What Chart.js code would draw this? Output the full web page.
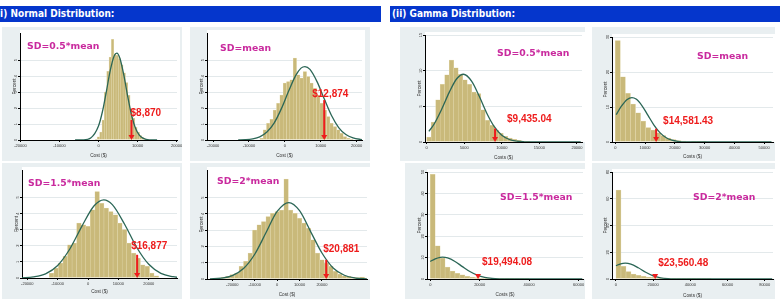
<!DOCTYPE html>
<html>
<head>
<meta charset="utf-8">
<script src="https://cdn.jsdelivr.net/npm/chart.js@4.4.1/dist/chart.umd.min.js"></script>
<style>
  body { margin: 0; width: 784px; height: 300px; background: #fff; position: relative; overflow: hidden; }
  .hdr { position: absolute; top: 6px; height: 16px; background: #0536cc; color: #fff; overflow: hidden; white-space: nowrap;
         font: bold 10px "DejaVu Sans", Verdana, sans-serif; line-height: 16px; }
  .hdr span { display: inline-block; transform: scaleX(0.9); transform-origin: left center; }
  .panel { position: absolute; background: #e9eff1; }
  .panel canvas { display: block; }
</style>
</head>
<body>
<div class="hdr" style="left:0;width:381px"><span style="margin-left:-4px">(i) Normal Distribution:</span></div>
<div class="hdr" style="left:390px;width:390px"><span style="margin-left:2px">(ii) Gamma Distribution:</span></div>

<script>
// ---------- (i) Normal distribution, percent per bin ----------
const costTicks = [-20000, -10000, 0, 10000, 20000];
const normalPctTicks = [0, 1, 2, 3, 4, 5];

// SD = 0.5*mean
const n05Bins = [-600, 0, 600, 1200, 1800, 2400, 3000, 3600, 4200, 4800, 5400, 6000, 6600, 7200, 7800, 8400, 9000, 9600, 10200, 10800, 11400, 12000];
const n05Pct = [0.04, 0.2, 0.5, 1.25, 3.0, 4.3, 5.2, 6.3, 5.4, 5.3, 5.1, 4.7, 4.2, 3.6, 2.8, 1.95, 1.35, 0.8, 0.5, 0.27, 0.15, 0.06];
const n05CurveX = [-6000, -4000, -2000, 0, 1000, 2000, 3000, 4000, 4700, 5500, 6500, 7500, 8500, 9500, 10500, 11500, 13000, 15000];
const n05CurveY = [0, 0.01, 0.13, 0.88, 1.77, 3.02, 4.34, 5.26, 5.44, 5.1, 4.04, 2.7, 1.52, 0.72, 0.29, 0.1, 0.01, 0];

// SD = mean
const n10Bins = [-6510, -5580, -4650, -3720, -2790, -1860, -930, 0, 930, 1860, 2790, 3720, 4650, 5580, 6510, 7440, 8370, 9300, 10230, 11160, 12090, 13020, 13950, 14880, 15810, 16740, 17670, 18600];
const n10Pct = [0.1, 0.63, 1.05, 1.3, 1.88, 2.3, 2.82, 3.56, 3.66, 3.77, 5.13, 4.08, 3.87, 4.29, 3.97, 3.56, 3.24, 2.82, 2.3, 1.88, 1.46, 1.05, 0.84, 0.63, 0.42, 0.21, 0.1, 0.05];
const n10CurveX = [-13000, -11000, -9000, -7000, -5000, -3000, -1000, 1000, 3000, 4500, 5600, 7000, 9000, 11000, 13000, 15000, 17000, 19000, 21000, 22000];
const n10CurveY = [0.005, 0.02, 0.07, 0.2, 0.5, 1.06, 1.95, 3.03, 4.03, 4.5, 4.6, 4.42, 3.64, 2.56, 1.53, 0.78, 0.34, 0.13, 0.04, 0.02];

// SD = 1.5*mean
const n15Bins = [-12000, -10500, -9000, -7500, -6000, -4500, -3000, -1500, 0, 1500, 3000, 4500, 6000, 7500, 9000, 10500, 12000, 13500, 15000, 16500, 18000, 19500, 21000, 22500];
const n15Pct = [0.31, 0.62, 0.93, 1.34, 2.06, 2.16, 3.4, 3.3, 3.2, 4.23, 5.36, 4.64, 4.33, 4.12, 3.92, 3.4, 3.0, 2.16, 1.55, 1.24, 0.82, 0.72, 0.31, 0.14];
const n15CurveX = [-22000, -18000, -14000, -10000, -6000, -2000, 2000, 5200, 8000, 12000, 16000, 20000, 24000, 28000, 30000];
const n15CurveY = [0.01, 0.07, 0.26, 0.78, 1.8, 3.22, 4.48, 4.85, 4.55, 3.35, 1.91, 0.85, 0.29, 0.08, 0.03];

// SD = 2*mean
const n20Bins = [-26000, -24000, -22000, -20000, -18000, -16000, -14000, -12000, -10000, -8000, -6000, -4000, -2000, 0, 2000, 4000, 6000, 8000, 10000, 12000, 14000, 16000, 18000, 20000, 22000, 24000, 26000, 28000, 30000, 32000, 34000, 36000, 38000, 40000];
const n20Pct = [0.06, 0.1, 0.16, 0.27, 0.37, 0.78, 1.08, 1.6, 3.0, 3.33, 3.53, 3.84, 4.04, 4.14, 4.24, 6.14, 4.24, 4.04, 3.73, 3.43, 3.12, 2.41, 1.6, 1.18, 0.98, 0.78, 0.47, 0.31, 0.2, 0.16, 0.1, 0.08, 0.12, 0.06];
const n20CurveX = [-30000, -25000, -20000, -15000, -10000, -5000, 0, 5200, 10000, 15000, 20000, 25000, 30000, 35000, 40000];
const n20CurveY = [0.01, 0.05, 0.21, 0.64, 1.52, 2.84, 4.15, 4.7, 4.2, 2.9, 1.6, 0.68, 0.23, 0.06, 0.01];

// ---------- (ii) Gamma distribution ----------
// SD = 0.5*mean
const g05Ticks = [0, 5000, 10000, 15000, 20000];
const g05PctTicks = [0, 5, 10, 15];
const g05Bins = [300, 900, 1500, 2100, 2700, 3300, 3900, 4500, 5100, 5700, 6300, 6900, 7500, 8100, 8700, 9300, 9900, 10500, 11100, 11700, 12300, 12900, 13500];
const g05Pct = [0.7, 2.8, 5.9, 8.1, 9.4, 11.5, 10.4, 9.5, 8.7, 8.1, 7.0, 6.8, 4.5, 3.05, 2.35, 1.65, 1.2, 0.8, 0.56, 0.38, 0.23, 0.14, 0.09];
const g05CurveX = [300, 1000, 2000, 3000, 4000, 4900, 6000, 7000, 8000, 9000, 10000, 11000, 12000, 13000, 14500, 20500];
const g05CurveY = [1.5, 2.52, 4.58, 6.96, 8.87, 9.5, 8.5, 6.4, 4.03, 2.14, 0.94, 0.35, 0.11, 0.03, 0.003, 0];

// SD = mean
const g10Ticks = [0, 10000, 20000, 30000, 40000, 50000];
const g10PctTicks = [0, 10, 20, 30];
const g10Bins = [850, 2550, 4250, 5950, 7650, 9350, 11050, 12750, 14450, 16150, 17850, 19550, 21250, 22950, 24650, 26350, 28050, 29750];
const g10Pct = [29, 18.6, 13.9, 10.8, 8.3, 6.0, 4.1, 3.4, 2.6, 1.8, 1.1, 0.7, 0.4, 0.25, 0.15, 0.1, 0.06, 0.04];
const g10CurveX = [300, 2000, 4000, 5600, 7000, 9000, 11000, 13000, 15000, 17000, 19000, 21000, 24000, 30000, 52500];
const g10CurveY = [7.8, 10.15, 12.16, 12.7, 12.26, 10.35, 7.6, 4.84, 2.69, 1.3, 0.54, 0.2, 0.03, 0, 0];

// SD = 1.5*mean
const g15Ticks = [0, 20000, 40000, 60000];
const g15PctTicks = [0, 10, 20, 30, 40, 50];
const g15Bins = [1000, 3000, 5000, 7000, 9000, 11000, 13000, 15000, 17000, 19000, 21000, 23000, 25000, 27000, 29000, 31000, 33000, 35000, 37000, 39000];
const g15Pct = [48.9, 15.5, 9.8, 5.6, 3.7, 2.6, 1.9, 1.3, 0.95, 0.7, 0.45, 0.3, 0.2, 0.15, 0.1, 0.08, 0.05, 0.04, 0.03, 0.02];
const g15CurveX = [0, 2000, 4000, 5000, 7000, 10000, 13000, 16000, 19000, 22000, 25000, 28000, 31000, 34000, 61500];
const g15CurveY = [8.2, 9.4, 10.1, 10.2, 9.85, 8.2, 5.8, 3.5, 1.8, 0.78, 0.29, 0.09, 0.03, 0.005, 0];

// SD = 2*mean
const g20Ticks = [0, 20000, 40000, 60000, 80000];
const g20PctTicks = [0, 20, 40, 60, 80];
const g20Bins = [1350, 4050, 6750, 9450, 12150, 14850, 17550, 20250, 22950, 25650, 28350, 31050, 33750, 36450, 39150, 41850, 44550, 47250, 49950];
const g20Pct = [66.5, 9.4, 5.6, 3.6, 2.8, 2.0, 1.5, 1.2, 0.8, 0.6, 0.45, 0.3, 0.22, 0.15, 0.1, 0.08, 0.05, 0.04, 0.03];
const g20CurveX = [0, 2500, 5000, 8000, 12000, 16000, 20000, 24000, 28000, 32000, 36000, 40000, 84000];
const g20CurveY = [9.97, 11.4, 11.9, 11.16, 8.4, 5.05, 2.4, 0.92, 0.28, 0.07, 0.013, 0, 0];

// axis ranges and the annotated cut-off per panel (normal x4, then gamma x4)
const xMin = [-20100, -21700, -21750, -31300, -220, -1100, -1330, -2140];
const xMax = [20100, 21500, 29300, 40100, 20670, 53000, 61800, 84450];
const yMax = [6.7, 6.7, 6.7, 6.7, 15, 30, 50, 80];
const arrowX = [8452, 10970, 16170, 21900, 9100, 13727, 19325, 21075];
const arrowTop = [1.25, 2.5, 1.44, 1.18, 1.9, 3.8, 2.3, 3];
const costLabels = ['$8,870', '$12,874', '$16,877', '$20,881', '$9,435.04', '$14,581.43', '$19,494.08', '$23,560.48'];
const sdLabels = ['SD=0.5*mean', 'SD=mean', 'SD=1.5*mean', 'SD=2*mean', 'SD=0.5*mean', 'SD=mean', 'SD=1.5*mean', 'SD=2*mean'];

const panels = [
  { bins: n05Bins, pct: n05Pct, cx: n05CurveX, cy: n05CurveY, xt: costTicks, yt: normalPctTicks, title: 'Cost ($)' },
  { bins: n10Bins, pct: n10Pct, cx: n10CurveX, cy: n10CurveY, xt: costTicks, yt: normalPctTicks, title: 'Cost ($)' },
  { bins: n15Bins, pct: n15Pct, cx: n15CurveX, cy: n15CurveY, xt: costTicks, yt: normalPctTicks, title: 'Cost ($)' },
  { bins: n20Bins, pct: n20Pct, cx: n20CurveX, cy: n20CurveY, xt: costTicks, yt: normalPctTicks, title: 'Cost ($)' },
  { bins: g05Bins, pct: g05Pct, cx: g05CurveX, cy: g05CurveY, xt: g05Ticks, yt: g05PctTicks, title: 'Costs ($)' },
  { bins: g10Bins, pct: g10Pct, cx: g10CurveX, cy: g10CurveY, xt: g10Ticks, yt: g10PctTicks, title: 'Costs ($)' },
  { bins: g15Bins, pct: g15Pct, cx: g15CurveX, cy: g15CurveY, xt: g15Ticks, yt: g15PctTicks, title: 'Costs ($)' },
  { bins: g20Bins, pct: g20Pct, cx: g20CurveX, cy: g20CurveY, xt: g20Ticks, yt: g20PctTicks, title: 'Costs ($)' },
];

// page layout: panel box, plot edges, y-title x, x-axis band, text offsets
const boxes = [
  { x: 2,   y: 27,  w: 180, h: 134, l: 20,  t: 33,  r: 177, b: 140, ytx: 15,    xh: 18.5, sdX: 27,  sdY: 47,  dx: -1,  dy: -7 },
  { x: 190, y: 27,  w: 180, h: 134, l: 207, t: 33,  r: 362, b: 140, ytx: 201.7, xh: 18.5, sdX: 220, sdY: 49,  dx: -12, dy: -6 },
  { x: 2,   y: 163, w: 180, h: 136, l: 22,  t: 170, r: 177, b: 278, ytx: 16.7,  xh: 17,   sdX: 28,  sdY: 184, dx: -6,  dy: -9 },
  { x: 190, y: 163, w: 180, h: 136, l: 207, t: 170, r: 367, b: 279, ytx: 201.7, xh: 18.5, sdX: 217, sdY: 182, dx: -3,  dy: -11 },
  { x: 400, y: 27,  w: 185, h: 134, l: 425, t: 35,  r: 582, b: 142, ytx: 419.3, xh: 18.5, sdX: 497, sdY: 54,  dx: 12,  dy: -9 },
  { x: 592, y: 27,  w: 183, h: 134, l: 612, t: 37,  r: 773, b: 142, ytx: 605.7, xh: 17.8, sdX: 697, sdY: 57,  dx: 7,   dy: -7 },
  { x: 405, y: 163, w: 180, h: 136, l: 427, t: 172, r: 583, b: 279, ytx: 419.3, xh: 18.5, sdX: 500, sdY: 198, dx: 4,   dy: -12 },
  { x: 592, y: 163, w: 183, h: 136, l: 612, t: 172, r: 773, b: 279, ytx: 605.7, xh: 19.2, sdX: 693, sdY: 198, dx: 3,   dy: -12 },
];

Chart.defaults.font.family = '"Liberation Sans", Arial, sans-serif';

// white plot region, rotated y labels, red cut-off arrow and the two annotations
const decor = {
  id: 'decor',
  beforeDraw(chart) {
    const { ctx, chartArea: a } = chart;
    ctx.save();
    ctx.fillStyle = '#ffffff';
    ctx.fillRect(a.left, a.top - 3, a.right - a.left + 3, a.bottom - a.top + 3);
    ctx.restore();
  },
  afterDraw(chart, args, o) {
    const { ctx, chartArea: a } = chart;
    const xs = chart.scales.x, ys = chart.scales.y;
    ctx.save();
    ctx.fillStyle = '#333';
    ctx.font = '4px "Liberation Sans", Arial, sans-serif';
    ctx.textAlign = 'center';
    ctx.textBaseline = 'middle';
    ys.ticks.forEach(t => {
      ctx.save();
      ctx.translate(a.left - 4, ys.getPixelForValue(t.value));
      ctx.rotate(-Math.PI / 2);
      ctx.fillText(String(t.value), 0, 0);
      ctx.restore();
    });

    const ax = xs.getPixelForValue(o.arrowX);
    const top = ys.getPixelForValue(o.arrowTop);
    const bot = ys.getPixelForValue(0);
    ctx.strokeStyle = ctx.fillStyle = '#ee1c1c';
    ctx.lineWidth = 2;
    if (bot - top > 5) {
      ctx.beginPath();
      ctx.moveTo(ax, top);
      ctx.lineTo(ax, bot - 4);
      ctx.stroke();
    }
    ctx.beginPath();
    ctx.moveTo(ax - 3, bot - 5);
    ctx.lineTo(ax + 3, bot - 5);
    ctx.lineTo(ax, bot);
    ctx.closePath();
    ctx.fill();

    ctx.textAlign = 'left';
    ctx.font = 'bold 10px "Liberation Sans", Arial, sans-serif';
    ctx.fillText(o.cost, ax + o.dx, top + o.dy);

    ctx.fillStyle = '#c92a9e';
    ctx.font = 'bold 9.3px "DejaVu Sans", Verdana, sans-serif';
    ctx.fillText(o.sd, o.sdX, o.sdY);
    ctx.restore();
  }
};

function makePanel(i) {
  const p = panels[i], b = boxes[i];
  const div = document.createElement('div');
  div.className = 'panel';
  Object.assign(div.style, { left: b.x + 'px', top: b.y + 'px', width: b.w + 'px', height: b.h + 'px' });
  const cv = document.createElement('canvas');
  cv.width = b.w;
  cv.height = b.h;
  div.appendChild(cv);
  document.body.appendChild(div);

  const yLeft = b.ytx - 2.8 - b.x;   // y title centre sits 2.8px right of scale's left edge
  new Chart(cv, {
    type: 'bar',
    data: {
      datasets: [
        {
          type: 'line',
          data: p.cx.map((x, k) => ({ x, y: p.cy[k] })),
          borderColor: '#2b6656',
          borderWidth: 1.3,
          pointRadius: 0,
          cubicInterpolationMode: 'monotone',
          order: 0,
        },
        {
          type: 'bar',
          data: p.bins.map((x, k) => ({ x, y: p.pct[k] })),
          backgroundColor: '#c9b97a',
          borderColor: '#e4dab0',
          borderWidth: 0.5,
          barPercentage: 1,
          categoryPercentage: 1,
          order: 1,
        },
      ],
    },
    options: {
      responsive: false,
      animation: false,
      devicePixelRatio: 1,
      layout: {
        padding: { left: yLeft, top: b.t - b.y, right: b.x + b.w - b.r, bottom: b.y + b.h - b.b - b.xh },
      },
      plugins: {
        legend: { display: false },
        tooltip: { enabled: false },
        decor: {
          arrowX: arrowX[i], arrowTop: arrowTop[i], cost: costLabels[i], sd: sdLabels[i],
          dx: b.dx, dy: b.dy, sdX: b.sdX - b.x, sdY: b.sdY - b.y,
        },
      },
      scales: {
        x: {
          type: 'linear',
          min: xMin[i],
          max: xMax[i],
          offset: false,
          afterBuildTicks: s => { s.ticks = p.xt.map(v => ({ value: v })); },
          afterFit: s => { s.height = b.xh; s.paddingLeft = 0; s.paddingRight = 0; },
          grid: { offset: false, color: 'rgba(0,0,0,0)', tickColor: '#000', tickLength: 2 },
          border: { color: '#000', width: 1 },
          ticks: { font: { size: 4 }, color: '#333', padding: 1, maxRotation: 0, autoSkip: false, callback: v => String(v) },
          title: { display: true, text: p.title, font: { size: 4.7 }, color: '#333', padding: 0 },
        },
        y: {
          min: 0,
          max: yMax[i],
          afterBuildTicks: s => { s.ticks = p.yt.map(v => ({ value: v })); },
          afterFit: s => { s.width = b.l - b.x - yLeft; s.paddingTop = 0; s.paddingBottom = 0; },
          grid: { color: '#e3e9eb', tickColor: '#000', tickLength: 2 },
          border: { color: '#000', width: 1 },
          ticks: { display: false },
          title: { display: true, text: 'Percent', font: { size: 4.7 }, color: '#333', padding: 0 },
        },
      },
    },
    plugins: [decor],
  });
}

panels.forEach((p, i) => makePanel(i));
</script>
</body>
</html>
